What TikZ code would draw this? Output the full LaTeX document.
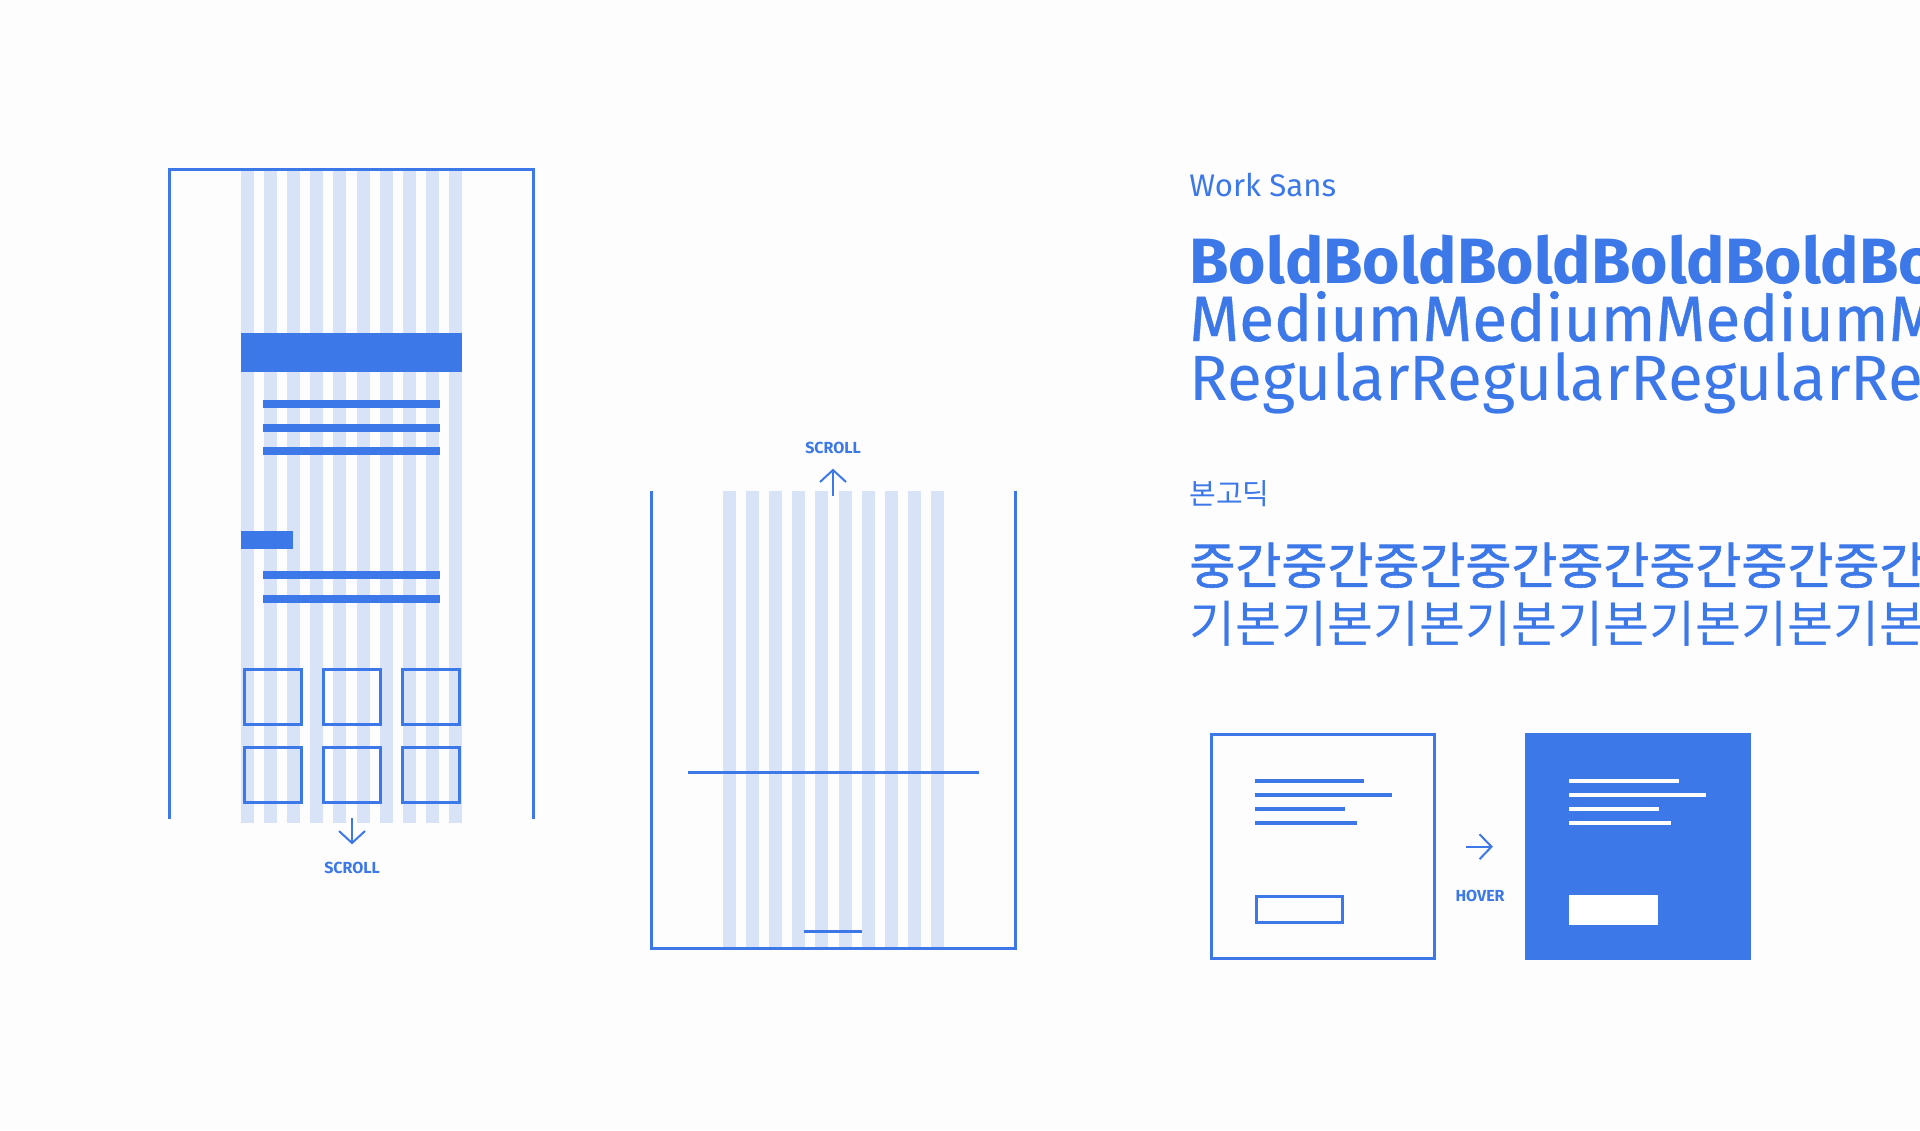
\documentclass[tikz,border=0pt]{standalone}
\usepackage{fontspec}
\setmainfont{Fira Sans}
\newfontfamily\firamed[FakeBold=0.6]{Fira Sans}
\newfontfamily\kr{Noto Sans CJK KR}
\newfontfamily\krmed[FakeBold=1.2]{Noto Sans CJK KR}
\usetikzlibrary{calc}
\definecolor{bl}{RGB}{60,120,232}
\definecolor{lc}{RGB}{216,227,248}
\definecolor{bgc}{RGB}{253,253,253}
\tikzset{
  colstripe/.style={fill=lc,draw=none},
  frameline/.style={draw=bl,line width=1.5pt},
  barfill/.style={fill=bl,draw=none},
  arrline/.style={draw=bl,line width=1.1pt},
  headline/.style={draw=bl,line width=1pt},
  lbl/.style={text=bl,inner sep=0pt,font=\bfseries\fontsize{8}{8}\selectfont},
  typo/.style={text=bl,inner sep=0pt,anchor=base west}
}
\begin{document}
\begin{tikzpicture}[x=0.5pt,y=-0.5pt]
\clip (0,0) rectangle (1920,1130);
\fill[bgc] (0,0) rectangle (1920,1130);

% ---------- left phone ----------
\foreach \i in {0,...,9} \fill[colstripe] ({241+23.1*\i},169) rectangle ++(13,654);
\draw[frameline] (169,819) -- (169,169.5) -- (533,169.5) -- (533,819);
\fill[barfill] (241,333) rectangle (462,372);
\foreach \yy in {404,427.5,451,575,598.5} \fill[barfill] (263,\yy-4) rectangle (440,\yy+4);
\fill[barfill] (241,531) rectangle (293,549);
\foreach \xx in {244.5,323.5,402.5} {
  \draw[frameline] (\xx,669.5) rectangle ++(57,55);
  \draw[frameline] (\xx,747.5) rectangle ++(57,55);
}
\coordinate (d1) at (352,818);
\coordinate (d2) at (352,843);
\draw[arrline] (d1) -- (d2);
\draw[headline] ($(d2)+(-13,-12)$) -- (d2) -- ($(d2)+(13,-12)$);
\node[lbl] (scroll1) at (352,868) {SCROLL};

% ---------- middle phone ----------
\foreach \i in {0,...,9} \fill[colstripe] ({723+23.1*\i},491) rectangle ++(13,457);
\draw[frameline] (651,491) -- (651,948) -- (1015,948) -- (1015,491);
\draw[frameline] (688,772.5) -- (979,772.5);
\draw[frameline] (804,931) -- (862,931);
\coordinate (u1) at (833,496);
\coordinate (u2) at (833,470);
\draw[arrline] (u1) -- (u2);
\draw[headline] ($(u2)+(-13,12)$) -- (u2) -- ($(u2)+(13,12)$);
\node[lbl] (scroll2) at (833,448) {SCROLL};

% ---------- typography ----------
\node[typo,font=\fontsize{15.6}{15.6}\selectfont] (ws) at (1189,196.5) {Work Sans};
\node[typo,font=\bfseries\fontsize{32}{32}\selectfont] (bold) at (1189,283) {BoldBoldBoldBoldBoldBoldBold};
\node[typo,font=\firamed\fontsize{32}{32}\selectfont] (medium) at (1189,341) {MediumMediumMediumMediumMedium};
\node[typo,font=\fontsize{32}{32}\selectfont] (regular) at (1189,400.5) {RegularRegularRegularRegularRegular};

\node[typo,font=\kr\fontsize{14.5}{14.5}\selectfont] (bgd) at (1189,504.5) {본고딕};
\node[typo,font=\krmed\fontsize{25}{25}\selectfont] (jg) at (1189,584) {중간중간중간중간중간중간중간중간중간};
\node[typo,font=\kr\fontsize{25}{25}\selectfont] (gb) at (1189,642) {기본기본기본기본기본기본기본기본기본};

% ---------- hover cards ----------
\draw[frameline] (1211.5,734.5) rectangle (1434.5,958.5);
\foreach \e/\yy in {1364/781,1392/795,1344.5/809,1357/823}
  \fill[barfill] (1254.6,\yy-2) rectangle (\e,\yy+2);
\draw[frameline] (1256.1,896.5) rectangle (1342.1,922.5);

\fill[bl] (1524.5,733) rectangle (1751,960);
\foreach \e/\yy in {1678.5/781,1706/795,1658.5/809,1670.5/823}
  \fill[white] (1569,\yy-2) rectangle (\e,\yy+2);
\fill[white] (1569,895) rectangle (1658,925);

\coordinate (h1) at (1466,846.7);
\coordinate (h2) at (1491.5,846.7);
\draw[arrline] (h1) -- (h2);
\draw[headline] ($(h2)+(-12,-12.5)$) -- (h2) -- ($(h2)+(-12,12.5)$);
\node[lbl] (hover) at (1480,896) {HOVER};
\end{tikzpicture}
\end{document}
